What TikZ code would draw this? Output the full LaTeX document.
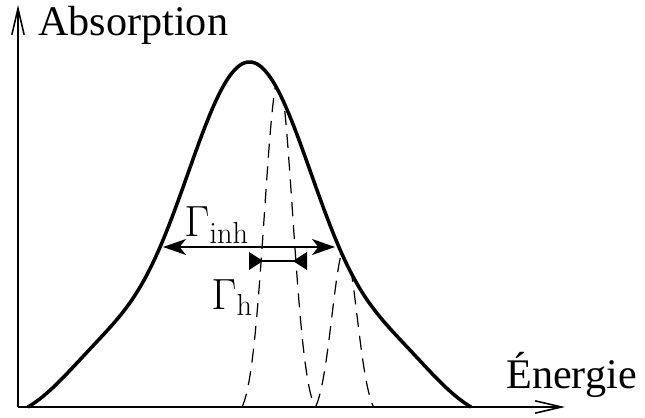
\documentclass[tikz,border=0pt]{standalone}
\usepackage[no-math]{fontspec}
\setmainfont{Liberation Serif}
\usetikzlibrary{positioning,arrows.meta}

\begin{document}
\begin{tikzpicture}[
        x=0.02cm, y=-0.02cm,
        every node/.style={font=\fontsize{24}{29}\selectfont, inner sep=0pt},
        axis/.style={line width=0.9pt, -{Straight Barb[length=15pt,width=7pt]}},
        envelope/.style={line width=2pt, line join=round},
        homline/.style={line width=0.7pt, dash pattern=on 8pt off 5pt},
        inharrow/.style={line width=1.3pt, {Stealth[length=13pt,width=9pt,inset=3.5pt]}-{Stealth[length=13pt,width=9pt,inset=3.5pt]}},
        harrow/.style={line width=1.1pt, {Triangle[reversed,length=8pt,width=10pt]}-{Triangle[reversed,length=8pt,width=10pt]}}
    ]
        \useasboundingbox (0,0) rectangle (645,418);

        % Axes
        \coordinate (O) at (18,407);
        \coordinate (xtip) at (565,407);
        \coordinate (ytip) at (18,5);
        \draw[axis] (O) -- (xtip);
        \draw[axis] (O) -- (ytip);
        \node[anchor=base west] (ylabel) at (38,36) {Absorption};
        \node[anchor=base west] (xlabel) at (506,388) {Énergie};

        % Inhomogeneous envelope
        \path[save path=\envshape] plot[domain=28:471, samples=181, smooth]
            (\x, {407-361.2*(exp(-((\x-249.5)/100)^2/0.9522)
                  +0.14*exp(-((abs(\x-249.5)-150)/100)^2/0.405)-0.0455)});

        % Homogeneous lines, kept under the envelope
        \begin{scope}
            \clip[use path=\envshape];
            \draw[homline] plot[domain=242:315, samples=61]
                (\x, {407-340*(exp(-(\x-278.5)^2/392)-0.0334)});
            \draw[homline] plot[domain=315.5:373.5, samples=51]
                (\x, {407-170*(exp(-(\x-344.5)^2/312.5)-0.0678)});
        \end{scope}

        \draw[envelope, use path=\envshape];

        % Widths
        \coordinate (inhL) at (163,247);
        \coordinate (inhR) at (335,247);
        \draw[inharrow] (inhL) -- (inhR);
        \node[anchor=base west] (inhlabel) at (184,237) {$\Gamma_{\mathrm{inh}}$};

        \coordinate (hL) at (249,261);
        \coordinate (hR) at (307,261);
        \draw[harrow] (hL) -- (hR);
        \node[anchor=base west] (hlabel) at (211,309) {$\Gamma_{\mathrm{h}}$};
    \end{tikzpicture}
\end{document}
